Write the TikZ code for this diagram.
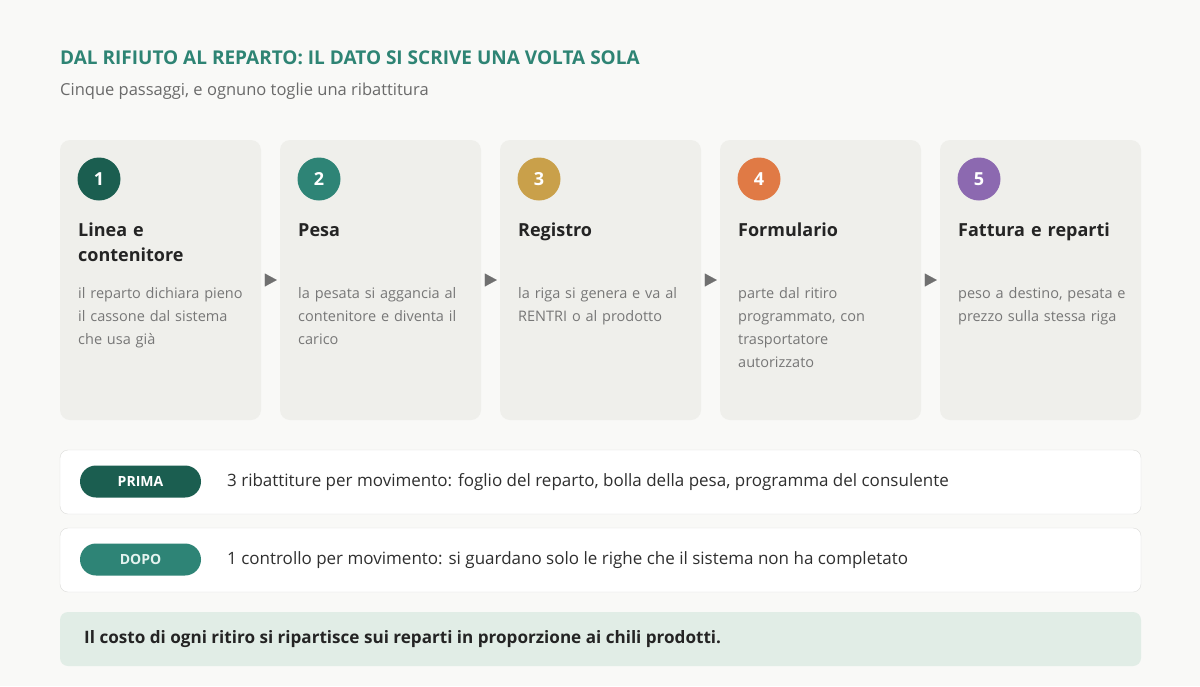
\documentclass[tikz,border=0pt]{standalone}
\usepackage{fontspec}
\setmainfont{Open Sans}
\usetikzlibrary{arrows.meta}

\definecolor{pagebg}{HTML}{F9F9F7}
\definecolor{cardbg}{HTML}{EFEFEB}
\definecolor{headteal}{HTML}{2E8474}
\definecolor{stepone}{HTML}{1B5E50}
\definecolor{steptwo}{HTML}{2E8476}
\definecolor{stepthree}{HTML}{C9A04A}
\definecolor{stepfour}{HTML}{E07A45}
\definecolor{stepfive}{HTML}{8C69B0}
\definecolor{inkdark}{HTML}{242424}
\definecolor{inkgray}{HTML}{777777}
\definecolor{subgray}{HTML}{6A6A6A}
\definecolor{tipgray}{HTML}{707070}
\definecolor{bandline}{HTML}{DCDCDA}
\definecolor{notebg}{HTML}{E1EDE6}
\definecolor{dopotext}{HTML}{E3F3EF}

\tikzset{
  card/.style={rectangle, fill=cardbg, rounded corners=10pt, minimum width=201pt, minimum height=280pt, inner sep=0pt},
  badge/.style={circle, minimum size=43pt, inner sep=0pt, text=white, font=\bfseries\fontsize{18}{20}\selectfont},
  cardhead/.style={anchor=base west, inner sep=0pt, text width=180pt, align=left, text=inkdark, font=\bfseries\fontsize{18}{25}\selectfont},
  carddesc/.style={anchor=base west, inner sep=0pt, text width=180pt, align=left, text=inkgray, font=\fontsize{14.5}{23}\selectfont},
  flowtip/.style={draw=tipgray, line width=0.1pt, -{Triangle[length=12pt,width=13pt,fill=tipgray]}, shorten <=4pt, shorten >=3pt},
  band/.style={rectangle, fill=white, draw=bandline, rounded corners=8pt, minimum width=1081pt, minimum height=64pt, inner sep=0pt},
  pill/.style={rectangle, rounded corners=16pt, minimum width=121pt, minimum height=32pt, inner sep=0pt, font=\bfseries\fontsize{14}{16}\selectfont},
  bandtext/.style={anchor=west, inner sep=0pt, text=inkdark!95, font=\fontsize{17}{20}\selectfont},
}

\begin{document}
\begin{tikzpicture}[x=1pt, y=-1pt]
  \fill[pagebg] (0,0) rectangle (1200,686);

  \node[anchor=base west, inner sep=0pt, text=headteal, font=\bfseries\fontsize{19}{22}\selectfont]
    (title) at (60,64.5) {DAL RIFIUTO AL REPARTO: IL DATO SI SCRIVE UNA VOLTA SOLA};
  \node[anchor=base west, inner sep=0pt, text=subgray, font=\fontsize{16.5}{18}\selectfont]
    (subtitle) at (60,95.5) {Cinque passaggi, e ognuno toglie una ribattitura};

  % the five steps
  \foreach \i/\col/\head/\desc in {
      1/stepone/{Linea e\\contenitore}/{il reparto dichiara pieno\\il cassone dal sistema\\che usa già},
      2/steptwo/{Pesa}/{la pesata si aggancia al\\contenitore e diventa il\\carico},
      3/stepthree/{Registro}/{la riga si genera e va al\\RENTRI o al prodotto},
      4/stepfour/{Formulario}/{parte dal ritiro\\programmato, con\\trasportatore\\autorizzato},
      5/stepfive/{Fattura e reparti}/{peso a destino, pesata e\\prezzo sulla stessa riga}}
  {
    \pgfmathsetmacro{\x}{60+220*(\i-1)}
    \node[card] (card\i) at (\x+100.5,280) {};
    \node[badge, fill=\col] (num\i) at (\x+39,179) {\i};
    \node[cardhead] (head\i) at (\x+18,236.5) {\head};
    \node[carddesc] (desc\i) at (\x+18,298) {\desc};
  }
  \foreach \i [count=\j from 2] in {1,...,4}
    \draw[flowtip] (card\i) -- (card\j);

  % before / after
  \node[band] (prima) at (600.5,482) {};
  \node[pill, fill=stepone, text=white] (primatag) at (140.5,481.5) {PRIMA};
  \node[bandtext] (primatext) at (227,482) {3 ribattiture per movimento: foglio del reparto, bolla della pesa, programma del consulente};

  \node[band] (dopo) at (600.5,560) {};
  \node[pill, fill=steptwo, text=dopotext] (dopotag) at (140.5,559.5) {DOPO};
  \node[bandtext] (dopotext) at (227,560) {1 controllo per movimento: si guardano solo le righe che il sistema non ha completato};

  \node[rectangle, fill=notebg, rounded corners=8pt, minimum width=1081pt, minimum height=54pt, inner sep=0pt]
    (note) at (600.5,639) {};
  \node[anchor=west, inner sep=0pt, text=inkdark, font=\bfseries\fontsize{17.1}{20}\selectfont]
    (notetext) at (84,639) {Il costo di ogni ritiro si ripartisce sui reparti in proporzione ai chili prodotti.};
\end{tikzpicture}
\end{document}
